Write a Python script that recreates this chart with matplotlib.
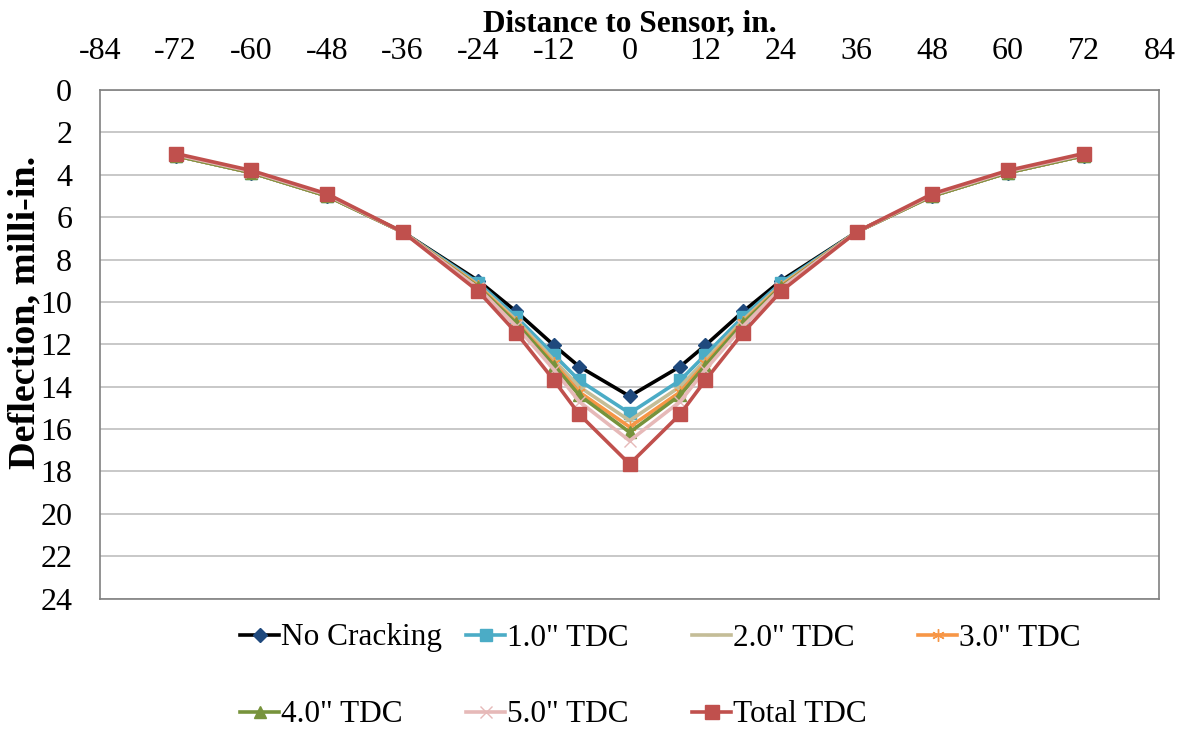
import matplotlib.pyplot as plt

plt.rcParams['font.family'] = ['Liberation Serif', 'DejaVu Serif']
plt.rcParams['axes.unicode_minus'] = False

# Distance to sensor (in.)
distance = [-72, -60, -48, -36, -24, -18, -12, -8, 0, 8, 12, 18, 24, 36, 48, 60, 72]

# Deflection (milli-in.) per case
no_cracking = [3.1, 3.9, 5.0, 6.7, 9.0, 10.45, 12.05, 13.05, 14.45, 13.05, 12.05, 10.45, 9.0, 6.7, 5.0, 3.9, 3.1]
tdc_1 = [3.1, 3.9, 5.0, 6.7, 9.1, 10.7, 12.5, 13.7, 15.25, 13.7, 12.5, 10.7, 9.1, 6.7, 5.0, 3.9, 3.1]
tdc_2 = [3.1, 3.9, 5.0, 6.7, 9.2, 10.85, 12.75, 14.0, 15.6, 14.0, 12.75, 10.85, 9.2, 6.7, 5.0, 3.9, 3.1]
tdc_3 = [3.1, 3.9, 5.0, 6.7, 9.25, 10.95, 12.9, 14.25, 15.9, 14.25, 12.9, 10.95, 9.25, 6.7, 5.0, 3.9, 3.1]
tdc_4 = [3.1, 3.9, 5.0, 6.7, 9.3, 11.0, 13.0, 14.4, 16.15, 14.4, 13.0, 11.0, 9.3, 6.7, 5.0, 3.9, 3.1]
tdc_5 = [3.05, 3.85, 4.95, 6.7, 9.35, 11.15, 13.2, 14.7, 16.55, 14.7, 13.2, 11.15, 9.35, 6.7, 4.95, 3.85, 3.05]
tdc_total = [3.0, 3.8, 4.9, 6.7, 9.5, 11.45, 13.7, 15.3, 17.65, 15.3, 13.7, 11.45, 9.5, 6.7, 4.9, 3.8, 3.0]

labels = ['No Cracking', '1.0" TDC', '2.0" TDC', '3.0" TDC', '4.0" TDC', '5.0" TDC', 'Total TDC']
x_ticks = [-84, -72, -60, -48, -36, -24, -12, 0, 12, 24, 36, 48, 60, 72, 84]
y_ticks = [0, 2, 4, 6, 8, 10, 12, 14, 16, 18, 20, 22, 24]

# (line color, marker, marker face, marker edge, marker size)
styles = [
    ('black', 'D', '#1f497d', '#1f497d', 7),
    ('#4bacc6', 's', '#4bacc6', '#4bacc6', 8),
    ('#c4bd97', '_', '#c4bd97', '#c4bd97', 8),
    ('#f79646', (6, 2, 0), '#f79646', '#f79646', 9),
    ('#77933c', '^', '#77933c', '#77933c', 8),
    ('#e6b9b8', 'x', '#e6b9b8', '#e6b9b8', 8),
    ('#c0504d', 's', '#c0504d', '#c0504d', 10),
]

fig = plt.figure(figsize=(11.83, 7.31), dpi=100)
ax = fig.add_axes([0.0845, 0.181, 0.8955, 0.696])

series = [no_cracking, tdc_1, tdc_2, tdc_3, tdc_4, tdc_5, tdc_total]
handles = []
for vals, lab, (lc, mk, mfc, mec, ms) in zip(series, labels, styles):
    ln, = ax.plot(distance, vals, color=lc, lw=2.6, marker=mk, markersize=ms,
                  markerfacecolor=mfc, markeredgecolor=mec, label=lab, zorder=3)
    handles.append(ln)

ax.set_xlim(-84, 84)
ax.set_ylim(24, 0)
ax.set_xticks(x_ticks)
ax.set_yticks(y_ticks)
ax.xaxis.tick_top()
ax.tick_params(axis='x', length=0, pad=17, labelsize=23)
ax.tick_params(axis='y', length=0, pad=20, labelsize=23)
ax.grid(axis='y', color='#bfbfbf', lw=1.2)
ax.set_axisbelow(True)
for sp in ax.spines.values():
    sp.set_color('#808080')
    sp.set_linewidth(1.2)

ax.xaxis.set_label_position('top')
ax.set_xlabel('Distance to Sensor, in.', fontsize=22.5, fontweight='bold')
ax.xaxis.label.set_verticalalignment('center')
ax.xaxis.set_label_coords(0.5, 1.13)
ax.set_ylabel('Deflection, milli-in.', fontsize=27.5, fontweight='bold')
ax.yaxis.label.set_verticalalignment('center')
ax.yaxis.set_label_coords(-0.071, 0.562)

# Excel-style legend: equal-width columns, two rows
col_x = [240, 466, 692, 918]
row_y = [638, 715]
W, H = 1183, 731
for i, h in enumerate(handles):
    r, c = divmod(i, 4)
    fig.legend(handles=[h], labels=[labels[i]], loc='center left',
               bbox_to_anchor=(col_x[c] / W, 1 - row_y[r] / H),
               frameon=False, fontsize=22.5, handlelength=1.25, handletextpad=0.05,
               borderpad=0, borderaxespad=0)

fig.savefig('out.png', dpi=100)
